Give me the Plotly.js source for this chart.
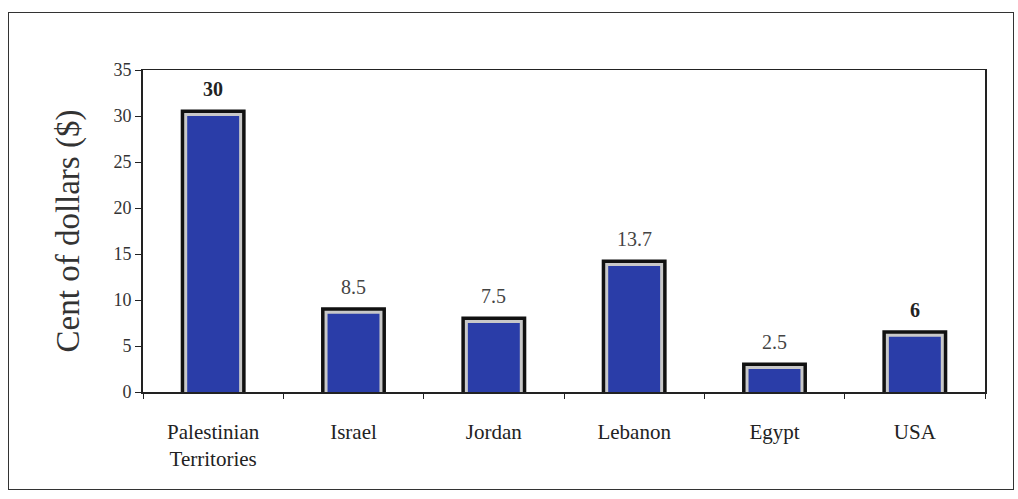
<!DOCTYPE html>
<html>
<head>
<meta charset="utf-8">
<script src="https://cdn.plot.ly/plotly-3.0.1.min.js"></script>
<style>
  html, body { margin: 0; padding: 0; background: #ffffff; }
  #chart { width: 1018px; height: 499px; position: absolute; left: 0; top: 0; }
  #frame { position: absolute; left: 8px; top: 12px; width: 1004px; height: 476px;
           border: 1.5px solid #333; pointer-events: none; }
</style>
</head>
<body>
<div id="chart"></div>
<div id="frame"></div>
<script>
const categories = ["Palestinian<br>Territories", "Israel", "Jordan", "Lebanon", "Egypt", "USA"];
const values = [30, 8.5, 7.5, 13.7, 2.5, 6];
const valueLabels = ["30", "8.5", "7.5", "13.7", "2.5", "6"];
const labelBold = [true, false, false, false, false, true];
const yTicks = [0, 5, 10, 15, 20, 25, 30, 35];

const barWidth = 0.37;
const serif = "Liberation Serif, Times New Roman, serif";

const traces = [
  { type: "bar", x: categories, y: values, width: barWidth,
    marker: { color: "#111111", line: { color: "#111111", width: 13 } },
    hoverinfo: "skip", showlegend: false },
  { type: "bar", x: categories, y: values, width: barWidth,
    marker: { color: "#c8c8c8", line: { color: "#c8c8c8", width: 6 } },
    hoverinfo: "skip", showlegend: false },
  { type: "bar", x: categories, y: values, width: barWidth,
    marker: { color: "#2a3da8", line: { width: 0 } },
    showlegend: false }
];

const annotations = categories.map((c, i) => ({
  x: c, y: values[i], xref: "x", yref: "y",
  text: labelBold[i] ? "<b>" + valueLabels[i] + "</b>" : valueLabels[i],
  showarrow: false, yanchor: "bottom", yshift: 14,
  font: { family: serif, size: 20, color: labelBold[i] ? "#222" : "#444" }
}));

const layout = {
  width: 1018, height: 499,
  margin: { l: 143, r: 33, t: 70, b: 107 },
  paper_bgcolor: "#ffffff", plot_bgcolor: "#ffffff",
  barmode: "overlay",
  font: { family: serif, color: "#222" },
  xaxis: {
    type: "category",
    showline: true, linecolor: "#222", linewidth: 1.5, mirror: true,
    ticks: "outside", tickson: "boundaries", ticklen: 5, tickcolor: "#222",
    ticklabelstandoff: 20,
    tickfont: { family: serif, size: 21, color: "#222" },
    showgrid: false, zeroline: false
  },
  yaxis: {
    range: [0, 35],
    tickvals: yTicks, ticktext: yTicks.map(String),
    showline: true, linecolor: "#222", linewidth: 2, mirror: true,
    ticks: "outside", ticklen: 6, tickcolor: "#222",
    tickfont: { family: serif, size: 18, color: "#333" },
    showgrid: false, zeroline: false,
    title: { text: "Cent of dollars ($)", standoff: 24,
             font: { family: serif, size: 33, color: "#333" } }
  },
  annotations: annotations
};

Plotly.newPlot("chart", traces, layout, { displayModeBar: false, staticPlot: true });
</script>
</body>
</html>
